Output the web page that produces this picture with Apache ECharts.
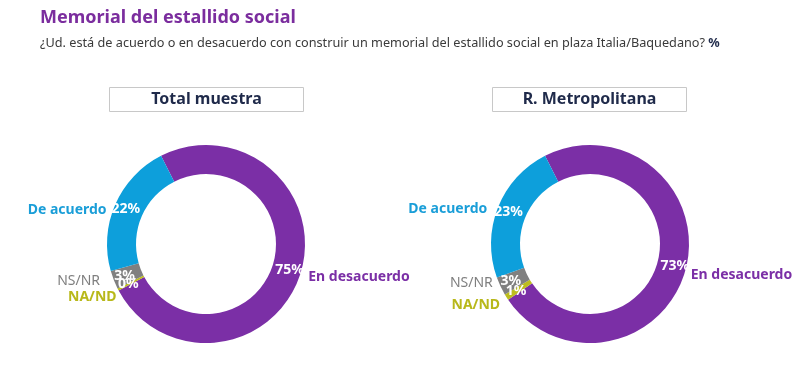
<!DOCTYPE html>
<html>
<head>
<meta charset="utf-8">
<script src="https://cdn.jsdelivr.net/npm/echarts@6/dist/echarts.min.js"></script>
<style>
  html, body { margin: 0; padding: 0; background: #fff; }
  #chart { width: 800px; height: 377px; }
</style>
</head>
<body>
<div id="chart"></div>
<script>
// categorías en orden horario desde la parte superior
const categories = ['En desacuerdo', 'NA/ND', 'NS/NR', 'De acuerdo'];
const totalValues = [75, 0.4, 3, 22];   // Total muestra
const rmValues = [73, 1, 3, 23];        // R. Metropolitana
const panelTitles = ['Total muestra', 'R. Metropolitana'];

const sliceColors = ['#7B2FA6', '#BDBD1E', '#808080', '#0D9FDB'];
const nameColors = ['#7B2FA6', '#B8B81A', '#7F7F7F', '#1A9ED8'];
const nameWeights = ['bold', 'bold', 'normal', 'bold'];
const font = 'Noto Sans';

const chart = echarts.init(document.getElementById('chart'));

// shift = ajustes finos [dx, dy] de las etiquetas externas
const donut = (values, cx, shift) => ([
  {
    type: 'pie',
    center: [cx, 244],
    radius: [70, 99],
    startAngle: 117,
    silent: true,
    data: values.map((v, i) => ({
      name: categories[i], value: v, itemStyle: { color: sliceColors[i] }
    })),
    label: {
      position: 'inside',
      color: '#fff',
      fontFamily: font,
      fontWeight: 'bold',
      fontSize: 14,
      formatter: (p) => Math.round(p.value) + '%'
    },
    labelLine: { show: false },
    labelLayout: { hideOverlap: false }
  },
  {
    type: 'pie',
    center: [cx, 244],
    radius: [70, 99],
    startAngle: 117,
    silent: true,
    avoidLabelOverlap: false,
    data: values.map((v, i) => ({
      name: categories[i], value: v,
      itemStyle: { color: 'rgba(0,0,0,0)' },
      label: { color: nameColors[i], fontWeight: nameWeights[i] }
    })),
    label: {
      position: 'outside',
      fontFamily: font,
      fontSize: 14,
      formatter: '{b}'
    },
    labelLine: { show: false, length: 4, length2: 2, lineStyle: { opacity: 0 } },
    labelLayout: (p) => ({
      hideOverlap: false, dx: shift[p.dataIndex][0], dy: shift[p.dataIndex][1]
    })
  }
]);

const box = (text, x) => ({
  type: 'rect',
  left: x,
  top: 87,
  shape: { width: 194, height: 24 },
  style: { fill: '#fff', stroke: '#C8C8C8', lineWidth: 1 },
  textContent: {
    style: { text: text, fill: '#1F2A4A', font: 'bold 16px "Noto Sans"' }
  },
  textConfig: { position: 'inside' }
});

const option = {
  backgroundColor: '#fff',
  title: {
    text: 'Memorial del estallido social',
    left: 38,
    top: 7,
    padding: [2, 2],
    itemGap: 10,
    textStyle: { color: '#7B2D9E', fontFamily: font, fontWeight: 'bold', fontSize: 18 },
    subtext: '{a|¿Ud. está de acuerdo o en desacuerdo con construir un memorial del estallido social en plaza Italia/Baquedano?} {b|%}',
    subtextStyle: {
      rich: {
        a: { color: '#3A3A3A', fontFamily: font, fontSize: 12.7 },
        b: { color: '#1F2A4A', fontFamily: font, fontSize: 12.7, fontWeight: 'bold' }
      }
    }
  },
  graphic: [box(panelTitles[0], 109), box(panelTitles[1], 492)],
  series: [
    ...donut(totalValues, 206, [[-3, 2], [9, 6], [-3, 0], [2, 7]]),
    ...donut(rmValues, 590, [[-6, 5], [4, 6], [3, -5], [0, 3]])
  ]
};

chart.setOption(option);
</script>
</body>
</html>
